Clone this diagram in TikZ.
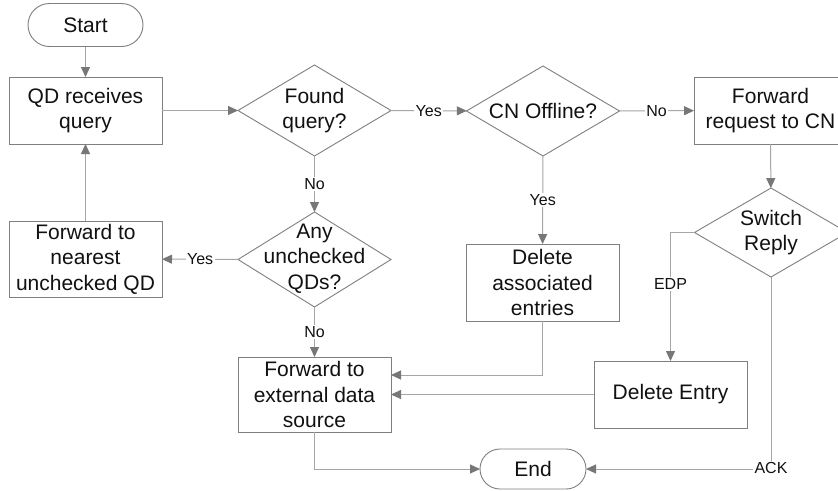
\documentclass[tikz,border=0pt]{standalone}
\usepackage{fontspec}
\setmainfont{Liberation Sans}
\usetikzlibrary{arrows.meta,shapes.geometric,calc}
\definecolor{boxgray}{HTML}{7F7F7F}
\definecolor{linegray}{HTML}{A6A6A6}
\definecolor{tipgray}{HTML}{777777}
\definecolor{txtcol}{HTML}{111111}
\begin{document}
\begin{tikzpicture}[x=1pt,y=-1pt,
  every node/.style={text=txtcol},
  proc/.style={draw=boxgray, line width=0.9pt, rectangle, minimum width=153pt, inner sep=0pt, outer sep=0pt, align=center, font=\fontsize{21}{25.5}\selectfont},
  term/.style={draw=boxgray, line width=0.9pt, rectangle, inner sep=0pt, outer sep=0pt, align=center, font=\fontsize{21}{25.5}\selectfont},
  dia/.style={draw=boxgray, line width=0.9pt, diamond, minimum width=153pt, minimum height=91pt, inner sep=0pt, outer sep=0pt},
  diatxt/.style={align=center, inner sep=0pt, font=\fontsize{21}{25.5}\selectfont},
  ln/.style={draw=linegray, line width=1pt, -{Triangle[length=10pt,width=9pt,color=tipgray]}},
  lnp/.style={draw=linegray, line width=1pt},
  lbl/.style={fill=white, inner sep=1.5pt, font=\fontsize{16}{18}\selectfont}
]
\clip (0,0) rectangle (838,490);
\fill[white] (0,0) rectangle (838,490);

% nodes
\node[term, minimum width=115pt, minimum height=43pt, rounded corners=21.5pt] (start) at (85.5,25) {Start};
\node[proc, minimum height=67pt] (qd) at (85.5,110.5) {QD receives\\query};
\node[dia] (fq) at (314.5,110.5) {};
\node[diatxt] (fqt) at (fq) {Found\\query?};
\node[dia, minimum height=90pt] (cn) at (543,111) {};
\node[diatxt] (cnt) at (cn) {CN Offline?};
\node[proc, minimum height=67pt] (fr) at (770.5,110.5) {Forward\\request to CN};
\node[dia, minimum height=89pt] (sw) at (771,232.5) {};
\node[diatxt] (swt) at (sw) {Switch\\Reply};
\node[dia, minimum height=95pt] (any) at (314.5,259.5) {};
\node[diatxt] (anyt) at ([yshift=1pt]any) {Any\\unchecked\\QDs?};
\node[proc, minimum height=76pt] (fn) at (85.5,259) {Forward to\\nearest\\unchecked QD};
\node[proc, minimum height=77pt] (da) at (542.5,282.5) {Delete\\associated\\entries};
\node[proc, minimum height=75pt] (fe) at (314.5,394.5) {Forward to\\external data\\source};
\node[proc, minimum height=67pt] (de) at (670.5,394.5) {Delete Entry};
\node[term, minimum width=106pt, minimum height=40pt, rounded corners=20pt] (end) at (533,469) {End};

% connectors
\draw[ln] (start) -- (qd);
\draw[ln] (qd) -- (fq);
\draw[ln] (fq) -- node[lbl]{Yes} (cn);
\draw[ln] (cn) -- node[lbl]{No} (fr);
\draw[ln] (fq) -- node[lbl]{No} (any);
\draw[ln] (any) -- node[lbl]{Yes} (fn);
\draw[ln] (any) -- node[lbl]{No} (fe);
\draw[ln] (fn) -- (qd);
\draw[ln] (cn) -- node[lbl]{Yes} (da);
\draw[ln] (da.south) |- ([yshift=19.5pt]fe.east);
\draw[ln] (de) -- (fe);
\draw[ln] (fr) -- (sw);
\draw[ln] (sw.west) -| node[lbl, pos=0.7]{EDP} (de);
\draw[ln] (sw.south) |- node[lbl, pos=0.5, yshift=1pt]{ACK} (end);
\draw[ln] (fe.south) |- (end);
\end{tikzpicture}
\end{document}
